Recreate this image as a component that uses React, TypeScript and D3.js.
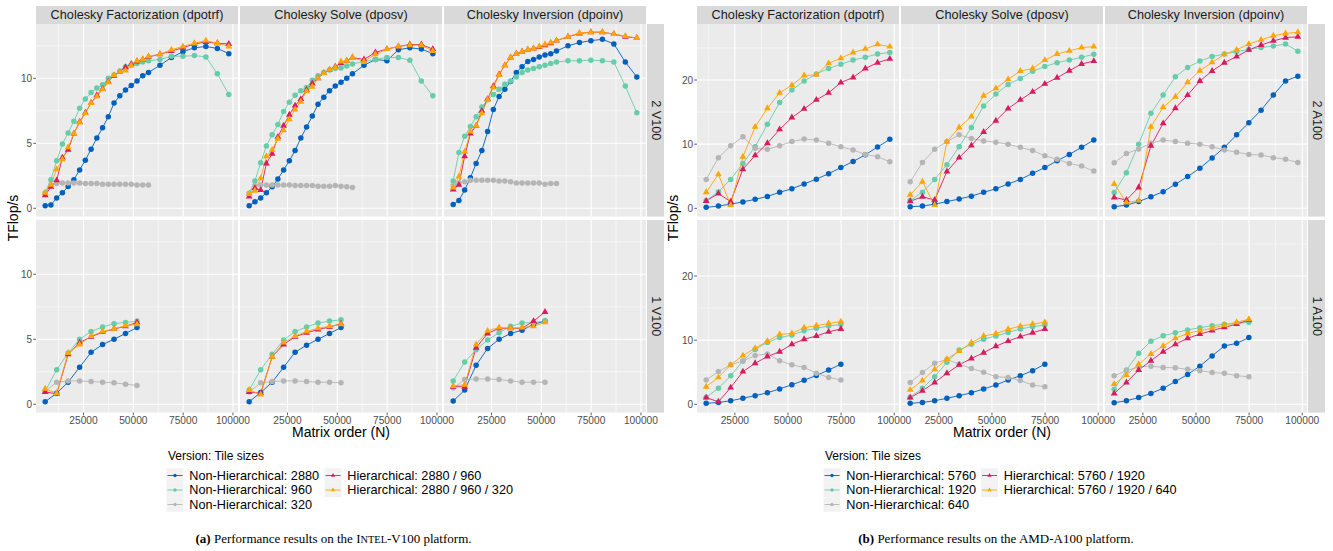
import React from 'react';
import * as d3 from 'd3';

// ---- matrix orders (N) ----
const xV100Two = [5760, 8640, 11520, 14400, 17280, 20160, 23040, 25920, 28800, 31680, 34560, 37440, 40320, 43200, 46080, 48960, 51840, 54720, 57600, 63360, 69120, 74880, 80640, 86400, 92160, 97920];
const xV100One = [5760, 11520, 17280, 23040, 28800, 34560, 40320, 46080, 51840];
const xA100Two = [11520, 17280, 23040, 28800, 34560, 40320, 46080, 51840, 57600, 63360, 69120, 74880, 80640, 86400, 92160, 97920];
const xA100One = [11520, 17280, 23040, 28800, 34560, 40320, 46080, 51840, 57600, 63360, 69120, 74880];

// ---- INTEL-V100, 2 GPUs (TFlop/s) ----
const v2PotrfNh2880 = [0.2, 0.25, 0.8, 1.2, 1.67, 2.2, 2.95, 3.7, 4.55, 5.4, 6.2, 7.05, 8.1, 8.65, 9.1, 9.45, 9.8, 10.2, 10.45, 11.0, 11.6, 12.05, 12.35, 12.45, 12.3, 11.9];
const v2PotrfNh960 = [1.2, 2.2, 3.65, 4.95, 5.8, 6.7, 7.7, 8.4, 8.9, 9.25, 9.5, 10.0, 10.25, 10.55, 10.9, 11.0, 11.15, 11.25, 11.35, 11.45, 11.7, 11.7, 11.75, 11.65, 10.35, 8.75];
const v2PotrfNh320 = [1.1, 1.8, 1.9, 1.95, 1.95, 1.95, 1.95, 1.9, 1.9, 1.9, 1.85, 1.85, 1.85, 1.85, 1.85, 1.85, 1.8, 1.8, 1.8];
const v2PotrfH2 = [1.0, 1.65, 2.15, 3.9, 4.5, 5.75, 6.65, 7.35, 8.1, 8.7, 9.2, 9.75, 10.2, 10.5, 10.85, 11.1, 11.3, 11.45, 11.65, 11.85, 12.1, 12.35, 12.65, 12.8, 12.7, 12.65];
const v2PotrfH3 = [1.2, 1.8, 3.0, 3.75, 4.7, 5.75, 6.6, 7.3, 8.1, 8.6, 9.15, 9.7, 10.25, 10.5, 10.6, 11.0, 11.35, 11.45, 11.7, 11.85, 12.2, 12.45, 12.7, 12.9, 12.7, 12.45];

const v2PosvNh2880 = [0.2, 0.5, 0.8, 1.2, 1.65, 2.25, 2.95, 3.65, 4.45, 5.4, 6.25, 7.1, 8.0, 8.55, 9.05, 9.4, 9.7, 10.0, 10.35, 11.0, 11.45, 11.35, 12.2, 12.35, 12.25, 11.9];
const v2PosvNh960 = [1.15, 2.1, 3.5, 4.8, 5.65, 6.45, 7.45, 8.15, 8.7, 9.05, 9.3, 9.85, 10.2, 10.45, 10.65, 10.75, 10.8, 10.95, 11.1, 11.3, 11.45, 11.6, 11.6, 11.4, 9.8, 8.65];
const v2PosvNh320 = [1.1, 1.75, 1.8, 1.8, 1.8, 1.8, 1.8, 1.8, 1.75, 1.75, 1.75, 1.75, 1.7, 1.7, 1.7, 1.75, 1.7, 1.65, 1.6];
const v2PosvH2 = [0.9, 1.55, 1.4, 3.45, 4.2, 5.5, 6.35, 7.2, 7.9, 8.4, 9.1, 9.6, 10.0, 10.4, 10.65, 10.9, 11.15, 11.35, 11.6, 11.45, 12.0, 12.25, 12.45, 12.6, 12.6, 12.25];
const v2PosvH3 = [1.1, 1.35, 2.3, 4.0, 4.5, 5.35, 6.0, 6.85, 7.6, 8.2, 9.0, 9.35, 10.0, 10.4, 10.65, 10.85, 11.3, 11.35, 11.6, 11.3, 11.85, 12.25, 12.45, 12.55, 12.55, 12.1];

const v2PoinvNh2880 = [0.3, 0.6, 1.4, 2.35, 3.45, 4.45, 5.9, 7.6, 8.6, 9.15, 9.75, 10.45, 10.9, 11.3, 11.45, 11.65, 11.8, 11.9, 12.1, 12.5, 12.75, 12.9, 13.0, 12.65, 11.25, 10.1];
const v2PoinvNh960 = [2.1, 4.3, 5.55, 6.3, 7.05, 7.8, 8.35, 8.75, 9.15, 9.55, 9.8, 10.1, 10.45, 10.65, 10.75, 10.9, 11.0, 11.15, 11.25, 11.35, 11.35, 11.4, 11.35, 11.25, 9.4, 7.35];
const v2PoinvNh320 = [1.75, 1.95, 2.05, 2.15, 2.15, 2.15, 2.15, 2.15, 2.1, 2.1, 2.05, 1.95, 1.95, 1.95, 1.95, 1.95, 1.85, 1.9, 1.9];
const v2PoinvH2 = [1.45, 1.8, 4.0, 5.75, 6.35, 7.5, 8.4, 9.4, 10.3, 11.0, 11.6, 11.9, 12.05, 12.2, 12.3, 12.4, 12.55, 12.7, 12.9, 13.2, 13.45, 13.55, 13.55, 13.4, 13.2, 13.1];
const v2PoinvH3 = [1.6, 2.45, 4.35, 5.9, 6.35, 7.3, 8.35, 9.3, 10.25, 11.0, 11.6, 11.9, 12.05, 12.2, 12.3, 12.45, 12.6, 12.75, 12.9, 13.2, 13.5, 13.55, 13.55, 13.4, 13.25, 13.1];

// ---- INTEL-V100, 1 GPU ----
const v1PotrfNh2880 = [0.2, 0.85, 1.7, 2.85, 4.0, 4.6, 5.0, 5.45, 5.9];
const v1PotrfNh960 = [1.0, 2.65, 3.95, 5.0, 5.6, 5.95, 6.2, 6.3, 6.4];
const v1PotrfNh320 = [1.0, 1.7, 1.8, 1.8, 1.75, 1.7, 1.65, 1.55, 1.45];
const v1PotrfH2 = [0.95, 0.8, 3.85, 4.75, 5.2, 5.55, 5.8, 6.0, 6.3];
const v1PotrfH3 = [1.2, 0.85, 3.95, 4.6, 5.25, 5.6, 5.8, 6.05, 6.15];

const v1PosvNh2880 = [0.2, 0.9, 1.7, 2.85, 4.0, 4.55, 5.0, 5.45, 5.9];
const v1PosvNh960 = [1.1, 2.65, 3.85, 4.95, 5.6, 5.95, 6.25, 6.4, 6.5];
const v1PosvNh320 = [0.95, 1.65, 1.75, 1.8, 1.8, 1.75, 1.7, 1.7, 1.65];
const v1PosvH2 = [0.95, 0.85, 3.65, 4.6, 5.2, 5.5, 5.75, 5.95, 6.2];
const v1PosvH3 = [1.1, 0.75, 3.65, 4.75, 5.25, 5.6, 5.85, 6.0, 6.15];

const v1PoinvNh2880 = [0.25, 1.1, 3.0, 4.3, 5.0, 5.45, 5.7, 6.15, 6.4];
const v1PoinvNh960 = [1.8, 3.25, 4.2, 4.95, 5.5, 6.0, 6.25, 6.3, 6.4];
const v1PoinvNh320 = [1.25, 1.9, 1.95, 1.95, 1.9, 1.8, 1.7, 1.7, 1.7];
const v1PoinvH2 = [1.35, 1.35, 4.35, 5.45, 5.85, 5.85, 5.85, 6.4, 7.1];
const v1PoinvH3 = [1.4, 1.5, 4.6, 5.65, 5.9, 5.85, 5.9, 6.0, 6.3];

// ---- AMD-A100, 2 GPUs ----
const a2PotrfNh5760 = [0.15, 0.35, 0.65, 1.0, 1.4, 1.85, 2.5, 3.05, 3.8, 4.55, 5.4, 6.35, 7.3, 8.35, 9.55, 10.75];
const a2PotrfNh1920 = [1.2, 2.6, 4.5, 7.0, 9.6, 13.1, 16.5, 18.45, 19.85, 20.95, 21.8, 22.45, 23.1, 23.55, 24.05, 24.3];
const a2PotrfNh640 = [4.5, 7.9, 9.75, 11.15, 9.35, 9.2, 9.75, 10.4, 10.8, 10.65, 10.15, 9.6, 9.1, 8.4, 8.05, 7.25];
const a2PotrfH2 = [1.15, 2.3, 1.05, 6.1, 8.25, 10.15, 12.3, 14.15, 15.5, 16.9, 18.0, 19.6, 20.4, 21.8, 22.7, 23.3];
const a2PotrfH3 = [2.5, 5.3, 0.5, 8.05, 12.7, 15.6, 18.0, 19.2, 20.7, 20.8, 22.6, 23.4, 24.3, 24.85, 25.55, 25.2];

const a2PosvNh5760 = [0.25, 0.35, 0.65, 1.05, 1.45, 1.9, 2.5, 3.05, 3.8, 4.5, 5.45, 6.35, 7.4, 8.4, 9.5, 10.65];
const a2PosvNh1920 = [1.2, 2.5, 4.5, 6.8, 9.6, 12.6, 15.95, 17.8, 19.3, 20.25, 21.35, 22.1, 22.7, 23.1, 23.55, 24.0];
const a2PosvNh640 = [4.15, 7.15, 9.2, 10.4, 11.45, 10.9, 10.5, 10.3, 10.0, 9.5, 9.0, 8.2, 7.65, 7.0, 6.6, 5.8];
const a2PosvH2 = [1.1, 1.8, 1.3, 5.75, 7.9, 9.8, 11.9, 13.65, 15.55, 16.9, 18.15, 19.4, 20.35, 21.45, 22.5, 22.95];
const a2PosvH3 = [2.1, 4.15, 0.5, 10.4, 12.6, 14.3, 17.55, 18.7, 20.1, 21.4, 21.8, 23.1, 24.05, 24.55, 25.05, 25.2];

const a2PoinvNh5760 = [0.25, 0.5, 1.05, 1.8, 2.6, 3.75, 4.95, 6.25, 7.85, 9.5, 11.45, 13.35, 15.3, 17.65, 19.85, 20.6];
const a2PoinvNh1920 = [2.45, 5.55, 10.0, 14.8, 17.65, 20.5, 21.95, 22.95, 23.65, 24.05, 24.4, 24.8, 25.05, 25.3, 25.6, 24.5];
const a2PoinvNh640 = [7.1, 8.55, 9.25, 10.15, 10.65, 10.4, 10.15, 10.0, 9.6, 9.1, 8.75, 8.4, 8.3, 7.9, 7.65, 7.15];
const a2PoinvH2 = [1.7, 1.3, 3.25, 9.75, 13.25, 15.6, 17.65, 19.85, 21.4, 22.7, 23.65, 24.7, 25.45, 26.1, 26.6, 26.75];
const a2PoinvH3 = [3.8, 0.9, 1.2, 12.7, 15.75, 17.4, 19.65, 21.45, 22.75, 24.0, 24.7, 25.6, 26.25, 26.9, 27.25, 27.45];

// ---- AMD-A100, 1 GPU ----
const a1PotrfNh5760 = [0.15, 0.3, 0.55, 0.95, 1.35, 1.8, 2.4, 3.05, 3.75, 4.5, 5.35, 6.25];
const a1PotrfNh1920 = [1.1, 2.5, 4.45, 6.75, 8.55, 9.65, 10.4, 10.8, 11.45, 11.85, 12.2, 12.45];
const a1PotrfNh640 = [3.8, 5.1, 6.15, 6.75, 7.6, 7.85, 6.8, 6.15, 5.75, 4.85, 4.2, 3.8];
const a1PotrfH2 = [1.05, 0.4, 2.6, 5.1, 6.4, 7.45, 8.2, 9.35, 10.15, 10.65, 11.3, 11.75];
const a1PotrfH3 = [2.75, 4.2, 6.15, 7.6, 8.75, 9.85, 10.9, 11.05, 11.95, 12.25, 12.6, 12.9];

const a1PosvNh5760 = [0.15, 0.3, 0.55, 0.95, 1.35, 1.8, 2.4, 3.0, 3.8, 4.45, 5.25, 6.25];
const a1PosvNh1920 = [1.1, 2.5, 4.3, 6.55, 8.45, 9.35, 10.15, 10.65, 11.2, 11.75, 12.1, 12.35];
const a1PosvNh640 = [3.4, 4.95, 6.4, 7.0, 6.25, 5.6, 5.0, 4.3, 4.2, 3.7, 3.0, 2.75];
const a1PosvH2 = [1.05, 2.1, 3.4, 4.85, 6.15, 7.15, 8.05, 9.05, 9.85, 10.55, 11.15, 11.75];
const a1PosvH3 = [2.25, 3.7, 5.45, 7.05, 8.3, 9.6, 10.65, 11.0, 11.7, 12.2, 12.5, 12.8];

const a1PoinvNh5760 = [0.25, 0.55, 1.05, 1.7, 2.5, 3.55, 4.65, 5.95, 7.55, 9.1, 9.5, 10.4];
const a1PoinvNh1920 = [2.35, 5.35, 7.95, 9.85, 10.7, 11.15, 11.6, 11.95, 12.25, 12.5, 12.6, 12.8];
const a1PoinvNh640 = [4.45, 5.25, 5.85, 5.95, 5.75, 5.7, 5.45, 5.25, 4.95, 4.85, 4.45, 4.3];
const a1PoinvH2 = [1.7, 3.4, 5.35, 6.8, 8.2, 9.35, 10.3, 10.95, 11.5, 12.0, 12.5, 13.15];
const a1PoinvH3 = [3.15, 4.55, 6.25, 7.85, 9.1, 10.3, 11.05, 11.5, 11.85, 12.35, 12.8, 13.25];

// ---- labels ----
const routines = ['Cholesky Factorization (dpotrf)', 'Cholesky Solve (dposv)', 'Cholesky Inversion (dpoinv)'];
const v100Rows = ['2 V100', '1 V100'];
const a100Rows = ['2 A100', '1 A100'];
const v100Legend = ['Non-Hierarchical: 2880', 'Non-Hierarchical: 960', 'Non-Hierarchical: 320', 'Hierarchical: 2880 / 960', 'Hierarchical: 2880 / 960 / 320'];
const a100Legend = ['Non-Hierarchical: 5760', 'Non-Hierarchical: 1920', 'Non-Hierarchical: 640', 'Hierarchical: 5760 / 1920', 'Hierarchical: 5760 / 1920 / 640'];
const xTickValues = [25000, 50000, 75000, 100000];
const xMinorValues = [12500, 37500, 62500, 87500];

const colors = ['#0060BE', '#66CDAA', '#B5B5B5', '#D81B5F', '#FFA500'];
const shapes = ['circle', 'circle', 'circle', 'triangle', 'triangle'];

const SANS = '"Liberation Sans", Arial, Helvetica, sans-serif';
const SERIF = '"Liberation Serif", "Times New Roman", serif';

const ROW_Y = [24, 220];
const PANEL_H = 192.6;
const PANEL_W = 202;
const STRIP_TOP = 6;
const STRIP_H = 18;

interface PanelData {
  xs: number[];
  series: number[][];
}

interface ChartConfig {
  panelX: number[];
  stripX: number;
  xDomain: [number, number];
  yDomain: [number, number];
  yTicks: number[];
  yMinor: number[];
  rows: string[];
  panels: PanelData[][];
  legend: string[];
  legendX: number;
  legendKeyX: [number, number];
  yTitleX: number;
}

const v100Config: ChartConfig = {
  panelX: [36, 240, 444],
  stripX: 647,
  xDomain: [1152, 102528],
  yDomain: [-0.64, 14.18],
  yTicks: [0, 5, 10],
  yMinor: [2.5, 7.5, 12.5],
  rows: v100Rows,
  panels: [
    [
      { xs: xV100Two, series: [v2PotrfNh2880, v2PotrfNh960, v2PotrfNh320, v2PotrfH2, v2PotrfH3] },
      { xs: xV100Two, series: [v2PosvNh2880, v2PosvNh960, v2PosvNh320, v2PosvH2, v2PosvH3] },
      { xs: xV100Two, series: [v2PoinvNh2880, v2PoinvNh960, v2PoinvNh320, v2PoinvH2, v2PoinvH3] },
    ],
    [
      { xs: xV100One, series: [v1PotrfNh2880, v1PotrfNh960, v1PotrfNh320, v1PotrfH2, v1PotrfH3] },
      { xs: xV100One, series: [v1PosvNh2880, v1PosvNh960, v1PosvNh320, v1PosvH2, v1PosvH3] },
      { xs: xV100One, series: [v1PoinvNh2880, v1PoinvNh960, v1PoinvNh320, v1PoinvH2, v1PoinvH3] },
    ],
  ],
  legend: v100Legend,
  legendX: 168,
  legendKeyX: [166.5, 324.5],
  yTitleX: 18,
};

const a100Config: ChartConfig = {
  panelX: [697, 901, 1105],
  stripX: 1308,
  xDomain: [7200, 102240],
  yDomain: [-1.29, 28.73],
  yTicks: [0, 10, 20],
  yMinor: [5, 15, 25],
  rows: a100Rows,
  panels: [
    [
      { xs: xA100Two, series: [a2PotrfNh5760, a2PotrfNh1920, a2PotrfNh640, a2PotrfH2, a2PotrfH3] },
      { xs: xA100Two, series: [a2PosvNh5760, a2PosvNh1920, a2PosvNh640, a2PosvH2, a2PosvH3] },
      { xs: xA100Two, series: [a2PoinvNh5760, a2PoinvNh1920, a2PoinvNh640, a2PoinvH2, a2PoinvH3] },
    ],
    [
      { xs: xA100One, series: [a1PotrfNh5760, a1PotrfNh1920, a1PotrfNh640, a1PotrfH2, a1PotrfH3] },
      { xs: xA100One, series: [a1PosvNh5760, a1PosvNh1920, a1PosvNh640, a1PosvH2, a1PosvH3] },
      { xs: xA100One, series: [a1PoinvNh5760, a1PoinvNh1920, a1PoinvNh640, a1PoinvH2, a1PoinvH3] },
    ],
  ],
  legend: a100Legend,
  legendX: 825,
  legendKeyX: [823.5, 981],
  yTitleX: 678,
};

const triPath = d3.symbol(d3.symbolTriangle, 20)() ?? '';
const triSmall = d3.symbol(d3.symbolTriangle, 8)() ?? '';

const Marker: React.FC<{ shape: string; x: number; y: number; color: string; small?: boolean }> = ({ shape, x, y, color, small }) =>
  shape === 'circle' ? (
    <circle cx={x} cy={y} r={small ? 1.7 : 2.75} fill={color} />
  ) : (
    <path d={small ? triSmall : triPath} transform={`translate(${x},${y})`} fill={color} />
  );

const FacetChart: React.FC<{ cfg: ChartConfig }> = ({ cfg }) => {
  const xLeftTicks = xTickValues;
  const legendRows = [475.5, 490, 504.5];
  const legendSlots = [
    [0, 0],
    [0, 1],
    [0, 2],
    [1, 0],
    [1, 1],
  ];
  const x0 = cfg.panelX[0];
  const x2 = cfg.panelX[2] + PANEL_W;

  return (
    <g>
      {cfg.panels.map((row, r) =>
        row.map((panel, c) => {
          const left = cfg.panelX[c];
          const top = ROW_Y[r];
          const xScale = d3.scaleLinear().domain(cfg.xDomain).range([left, left + PANEL_W]);
          const yScale = d3.scaleLinear().domain(cfg.yDomain).range([top + PANEL_H, top]);
          const line = d3
            .line<[number, number]>()
            .x((d) => xScale(d[0]))
            .y((d) => yScale(d[1]));
          const pts = panel.series.map((vals) => vals.map((v, i) => [panel.xs[i], v] as [number, number]));
          return (
            <g key={`p-${r}-${c}`}>
              <rect x={left} y={top} width={PANEL_W} height={PANEL_H} fill="#EBEBEB" />
              {cfg.yMinor.map((t) => (
                <line key={`ym${t}`} x1={left} x2={left + PANEL_W} y1={yScale(t)} y2={yScale(t)} stroke="#fff" strokeWidth={0.55} />
              ))}
              {xMinorValues.map((t) => (
                <line key={`xm${t}`} x1={xScale(t)} x2={xScale(t)} y1={top} y2={top + PANEL_H} stroke="#fff" strokeWidth={0.55} />
              ))}
              {cfg.yTicks.map((t) => (
                <line key={`yg${t}`} x1={left} x2={left + PANEL_W} y1={yScale(t)} y2={yScale(t)} stroke="#fff" strokeWidth={1.1} />
              ))}
              {xTickValues.map((t) => (
                <line key={`xg${t}`} x1={xScale(t)} x2={xScale(t)} y1={top} y2={top + PANEL_H} stroke="#fff" strokeWidth={1.1} />
              ))}

              {pts.map((p, s) => (
                <path key={`l${s}`} d={line(p) ?? ''} fill="none" stroke={colors[s]} strokeWidth={0.9} />
              ))}
              {pts.map((p, s) =>
                p.map((d, i) => (
                  <Marker key={`m${s}-${i}`} shape={shapes[s]} x={xScale(d[0])} y={yScale(d[1])} color={colors[s]} />
                ))
              )}

              {/* top strips */}
              {r === 0 && (
                <g>
                  <rect x={left} y={STRIP_TOP} width={PANEL_W} height={STRIP_H} fill="#D9D9D9" />
                  <text x={left + PANEL_W / 2} y={STRIP_TOP + STRIP_H / 2} dominantBaseline="central" textAnchor="middle" fontSize={12.7} fill="#1A1A1A">
                    {routines[c]}
                  </text>
                </g>
              )}

              {/* y axis */}
              {c === 0 &&
                cfg.yTicks.map((t) => (
                  <g key={`yt${t}`}>
                    <line x1={left - 2.7} x2={left} y1={yScale(t)} y2={yScale(t)} stroke="#333" strokeWidth={0.8} />
                    <text x={left - 4} y={yScale(t)} dominantBaseline="central" textAnchor="end" fontSize={10} fill="#4D4D4D">
                      {t}
                    </text>
                  </g>
                ))}

              {/* x axis */}
              {r === 1 &&
                xLeftTicks.map((t) => (
                  <g key={`xt${t}`}>
                    <line x1={xScale(t)} x2={xScale(t)} y1={top + PANEL_H} y2={top + PANEL_H + 2.7} stroke="#333" strokeWidth={0.8} />
                    <text x={xScale(t)} y={top + PANEL_H + 11} textAnchor="middle" fontSize={10.2} fill="#4D4D4D">
                      {t}
                    </text>
                  </g>
                ))}
            </g>
          );
        })
      )}

      {/* right strips */}
      {cfg.rows.map((label, r) => (
        <g key={`rs${r}`}>
          <rect x={cfg.stripX} y={ROW_Y[r]} width={17} height={PANEL_H} fill="#D9D9D9" />
          <text
            transform={`translate(${cfg.stripX + 8.5},${ROW_Y[r] + PANEL_H / 2}) rotate(90)`}
            textAnchor="middle"
            dominantBaseline="central"
            fontSize={12.7}
            fill="#1A1A1A"
          >
            {label}
          </text>
        </g>
      ))}

      {/* axis titles */}
      <text transform={`translate(${cfg.yTitleX},${218}) rotate(-90)`} textAnchor="middle" fontSize={14} fill="#000">
        TFlop/s
      </text>
      <text x={(x0 + x2) / 2} y={436.5} textAnchor="middle" fontSize={14} fill="#000">
        Matrix order (N)
      </text>

      {/* legend */}
      <text x={cfg.legendX} y={460} fontSize={12} fill="#000">
        Version: Tile sizes
      </text>
      {cfg.legend.map((label, s) => {
        const [col, row] = legendSlots[s];
        const kx = cfg.legendKeyX[col];
        const ky = legendRows[row];
        return (
          <g key={`lg${s}`}>
            <rect x={kx} y={ky - 7.25} width={17} height={14.5} fill="#F2F2F2" />
            <line x1={kx + 1} x2={kx + 16} y1={ky} y2={ky} stroke={colors[s]} strokeWidth={0.9} />
            <Marker shape={shapes[s]} x={kx + 8.5} y={ky} color={colors[s]} small />
            <text x={kx + 22.8} y={ky} dominantBaseline="central" fontSize={12.7} fill="#000">
              {label}
            </text>
          </g>
        );
      })}
    </g>
  );
};

export default function App() {
  return (
    <svg
      width={1333}
      height={551}
      style={{ position: 'absolute', left: 0, top: 0, background: '#fff' }}
      fontFamily={SANS}
    >
      <rect width={1333} height={551} fill="#fff" />
      <FacetChart cfg={v100Config} />
      <FacetChart cfg={a100Config} />

      <text x={333.5} y={543} textAnchor="middle" fontFamily={SERIF} fontSize={13} fill="#000">
        <tspan fontWeight="bold">(a)</tspan> Performance results on the I<tspan fontSize={10.4}>NTEL</tspan>-V100 platform.
      </text>
      <text x={996} y={543} textAnchor="middle" fontFamily={SERIF} fontSize={13} fill="#000">
        <tspan fontWeight="bold">(b)</tspan> Performance results on the AMD-A100 platform.
      </text>
    </svg>
  );
}
